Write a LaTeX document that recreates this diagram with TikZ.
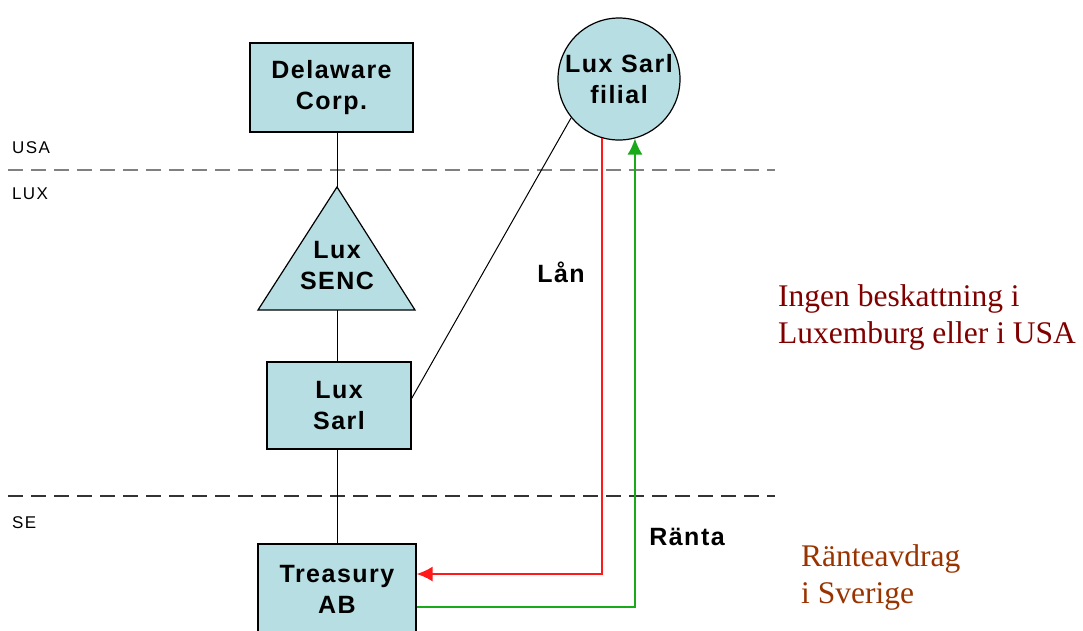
\documentclass[tikz,border=0pt]{standalone}
\usepackage{fontspec}
\setmainfont{Liberation Serif}
\newfontfamily\diagfont[LetterSpace=6]{Liberation Sans}
\newfontfamily\zonefont[LetterSpace=8]{Liberation Sans}
\usetikzlibrary{arrows.meta}

\definecolor{boxfill}{RGB}{183,222,227}
\definecolor{taxred}{RGB}{128,0,0}
\definecolor{taxbrown}{RGB}{153,51,0}
\definecolor{loanred}{RGB}{255,25,25}
\definecolor{rentgreen}{RGB}{25,170,25}

\tikzset{
    entity/.style={draw, line width=1.2pt, fill=boxfill, align=center, inner sep=0pt,
        font=\diagfont\bfseries\fontsize{25}{31}\selectfont},
    flowlabel/.style={font=\diagfont\bfseries\fontsize{25}{31}\selectfont},
    zone/.style={anchor=base west, inner sep=0pt, font=\zonefont\fontsize{17}{20}\selectfont},
    border/.style={line width=1.8pt, dash pattern=on 15pt off 8pt},
    owns/.style={line width=1pt},
    money/.style={line width=1.8pt, -{Latex[length=16pt, width=15pt]}},
    note/.style={anchor=west, inner sep=0pt, align=left, font=\fontsize{31.5}{37}\selectfont},
}

\begin{document}
\begin{tikzpicture}[x=1pt, y=-1pt]
    \clip (0,0) rectangle (1083,630);

    % Country borders
    \draw[border, black!50] (8,170) -- (775,170);
    \draw[border, black!80] (8,496) -- (775,496);
    \node[zone] (usa) at (12,153) {USA};
    \node[zone] (lux) at (12,199) {LUX};
    \node[zone] (se) at (12,528) {SE};

    % Group structure
    \node[entity, minimum width=163pt, minimum height=89pt] (delaware) at (331.5,87.5) {Delaware\\Corp.};
    \draw[line width=1.2pt, fill=boxfill] (337,187) coordinate (sencTop) -- (415,310) -- (258,310) -- cycle;
    \coordinate (sencBase) at (337,310);
    \node[flowlabel, align=center, inner sep=0pt] (senc) at (337,266) {Lux\\SENC};
    \node[entity, minimum width=144pt, minimum height=87pt] (luxsarl) at (339,405.5) {Lux\\Sarl};
    \node[entity, minimum width=158pt, minimum height=90pt] (treasury) at (337,589) {Treasury\\AB};
    \node[entity, circle, minimum size=122pt] (filial) at (619,79) {Lux Sarl\\filial};

    \draw[owns] (sencTop) -- (sencTop |- delaware.south);
    \draw[owns] (sencBase) -- (sencBase |- luxsarl.north);
    \draw[owns] (treasury.north) -- (treasury.north |- luxsarl.south);
    \draw[owns] ([yshift=7pt]luxsarl.east) -- (filial.219);

    % Loan and interest
    \draw[money, loanred] (filial.254) |- ([yshift=15pt]treasury.east);
    \draw[money, rentgreen] ([yshift=-18pt]treasury.east) -| (filial.285);
    \node[flowlabel] (lan) at (561,272) {Lån};
    \node[flowlabel] (ranta) at (687,537) {Ränta};

    % Tax effects
    \node[note, text=taxred] (notax) at (778,317) {Ingen beskattning i\\Luxemburg eller i USA};
    \node[note, text=taxbrown] (deduct) at (801,577) {Ränteavdrag\\i Sverige};
\end{tikzpicture}
\end{document}
